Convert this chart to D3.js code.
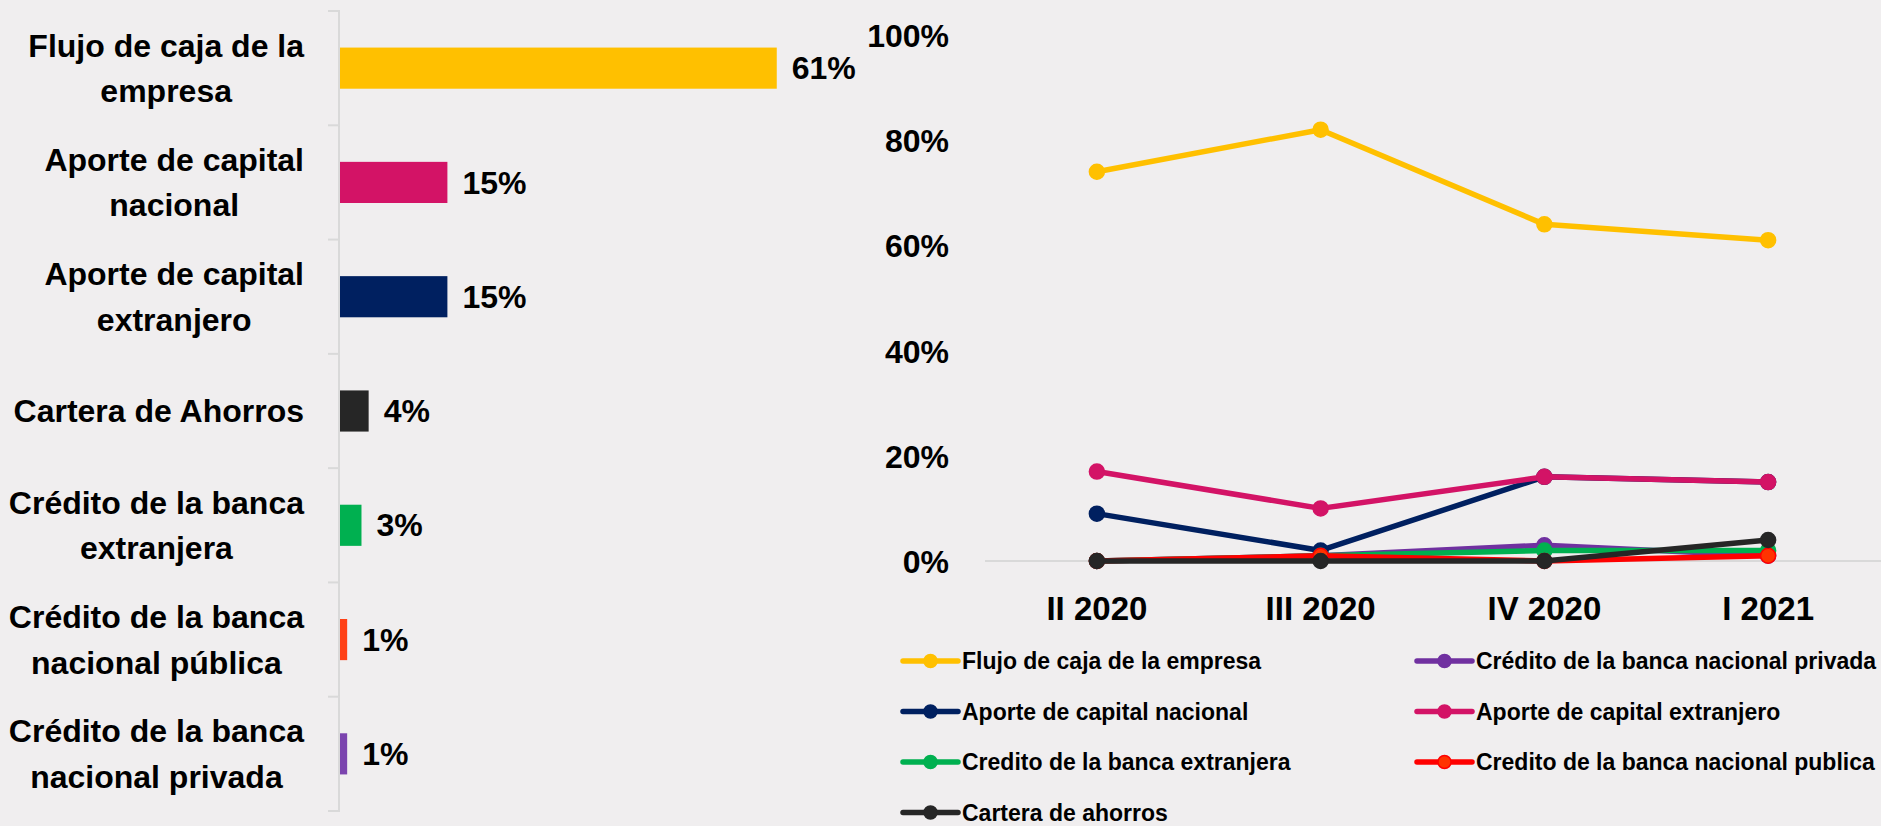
<!DOCTYPE html>
<html>
<head>
<meta charset="utf-8">
<script src="https://cdn.jsdelivr.net/npm/d3@7"></script>
<style>
  html, body { margin: 0; padding: 0; background: #F0EEEF; }
  svg { display: block; }
  text { font-family: "Liberation Sans", Arial, sans-serif; font-weight: bold; fill: #000; }
</style>
</head>
<body>
<svg id="chart" width="1881" height="826"></svg>
<script>
// ---------- Data: bar chart (I 2021) ----------
const barCategories = [
  "Flujo de caja de la\nempresa",
  "Aporte de capital\nnacional",
  "Aporte de capital\nextranjero",
  "Cartera de Ahorros",
  "Crédito de la banca\nextranjera",
  "Crédito de la banca\nnacional pública",
  "Crédito de la banca\nnacional privada"
];
const barValues = [0.61, 0.15, 0.15, 0.04, 0.03, 0.01, 0.01];
const barColors = ["#FFC000", "#D31366", "#002060", "#262626", "#00B050", "#FF4015", "#7B44AE"];

// ---------- Data: line chart ----------
const periods = ["II 2020", "III 2020", "IV 2020", "I 2021"];
const seriesNames = [
  "Flujo de caja de la empresa",
  "Crédito de la banca nacional privada",
  "Aporte de capital nacional",
  "Aporte de capital extranjero",
  "Credito de la banca extranjera",
  "Credito de la banca nacional publica",
  "Cartera de ahorros"
];
const flujoCaja        = [0.74, 0.82, 0.64, 0.61];
const creditoPrivada   = [0.00, 0.01, 0.03, 0.01];
const capitalNacional  = [0.09, 0.02, 0.16, 0.15];
const capitalExtranjero= [0.17, 0.10, 0.16, 0.15];
const creditoExtranjera= [0.00, 0.01, 0.02, 0.02];
const creditoPublica   = [0.00, 0.01, 0.00, 0.01];
const carteraAhorros   = [0.00, 0.00, 0.00, 0.04];
const seriesValues = [flujoCaja, creditoPrivada, capitalNacional, capitalExtranjero, creditoExtranjera, creditoPublica, carteraAhorros];
const lineColors   = ["#FFC000", "#7030A0", "#002060", "#D31366", "#00B050", "#FF0000", "#262626"];
const markerFills  = ["#FFC000", "#7030A0", "#002060", "#D31366", "#00B050", "#FF3300", "#262626"];
const yTicks = [0, 0.2, 0.4, 0.6, 0.8, 1.0];

const svg = d3.select("#chart");
const pct = d3.format(".0%");

// ================= LEFT: horizontal bar chart =================
const bx = d3.scaleLinear().domain([0, 1]).range([340, 1056]);
const by = d3.scaleBand().domain(barCategories).range([11, 811]).paddingInner(0.64).paddingOuter(0.32);
const left = svg.append("g");

// axis line + ticks
left.append("line").attr("x1", 339).attr("x2", 339).attr("y1", 11).attr("y2", 811)
  .attr("stroke", "#D9D9D9").attr("stroke-width", 2);
const bounds = d3.range(barCategories.length + 1).map(i => 11 + i * (811 - 11) / barCategories.length);
left.selectAll("line.tick").data(bounds).join("line").attr("class", "tick")
  .attr("x1", 328).attr("x2", 340).attr("y1", d => d).attr("y2", d => d)
  .attr("stroke", "#D9D9D9").attr("stroke-width", 2);

// bars
left.selectAll("rect.bar").data(barCategories).join("rect").attr("class", "bar")
  .attr("x", bx(0)).attr("y", d => by(d))
  .attr("width", (d, i) => bx(barValues[i]) - bx(0))
  .attr("height", by.bandwidth())
  .attr("fill", (d, i) => barColors[i]);

// value labels
left.selectAll("text.val").data(barCategories).join("text").attr("class", "val")
  .attr("x", (d, i) => bx(barValues[i]) + 15)
  .attr("y", d => by(d) + by.bandwidth() / 2)
  .attr("dy", "0.35em")
  .style("font-size", "32px")
  .text((d, i) => pct(barValues[i]));

// category labels: block right-aligned at 304, lines centered in block
const labelRight = 304, lineH = 45.5;
barCategories.forEach(cat => {
  const lines = cat.split("\n");
  const cy = by(cat) + by.bandwidth() / 2;
  const g = left.append("g");
  const texts = lines.map((ln, k) => g.append("text")
    .style("font-size", "32px")
    .attr("text-anchor", "middle")
    .attr("y", cy + (k - (lines.length - 1) / 2) * lineH)
    .attr("dy", "0.35em")
    .text(ln));
  const maxW = d3.max(texts, t => t.node().getComputedTextLength());
  texts.forEach(t => t.attr("x", labelRight - maxW / 2));
});

// ================= RIGHT: line chart =================
const lx = d3.scaleBand().domain(periods).range([985, 1880]);
const ly = d3.scaleLinear().domain([0, 1]).range([561, 35]);
const right = svg.append("g");

// zero line
right.append("line").attr("x1", 985).attr("x2", 1881).attr("y1", ly(0)).attr("y2", ly(0))
  .attr("stroke", "#D9D9D9").attr("stroke-width", 2);

// y axis labels
const yAxis = right.append("g").attr("transform", "translate(949,0)")
  .call(d3.axisLeft(ly).tickValues(yTicks).tickFormat(pct).tickSize(0).tickPadding(0));
yAxis.select(".domain").remove();
yAxis.selectAll("text").style("font-size", "32px").style("font-family", "'Liberation Sans', Arial, sans-serif")
  .style("font-weight", "bold").attr("fill", "#000").attr("dy", "0.36em");

// x axis labels
const xAxis = right.append("g").attr("transform", "translate(0,620)")
  .call(d3.axisBottom(lx).tickSize(0).tickPadding(0));
xAxis.select(".domain").remove();
xAxis.selectAll("text").style("font-size", "33px").style("font-family", "'Liberation Sans', Arial, sans-serif")
  .style("font-weight", "bold").attr("fill", "#000").attr("dy", "0").attr("y", 0);

// lines
const lineGen = d3.line().x((d, i) => lx(periods[i]) + lx.bandwidth() / 2).y(d => ly(d));
seriesValues.forEach((vals, s) => {
  right.append("path").attr("d", lineGen(vals))
    .attr("fill", "none").attr("stroke", lineColors[s]).attr("stroke-width", 5.5)
    .attr("stroke-linejoin", "round");
  right.selectAll(null).data(vals).join("circle")
    .attr("cx", (d, i) => lx(periods[i]) + lx.bandwidth() / 2)
    .attr("cy", d => ly(d))
    .attr("r", 7.5)
    .attr("fill", markerFills[s])
    .attr("stroke", lineColors[s]).attr("stroke-width", 1.5);
});

// legend (2 columns, row-major)
const legCols = [903, 1417], legRow0 = 661, legRowH = 50.5;
seriesNames.forEach((name, s) => {
  const col = s % 2, row = Math.floor(s / 2);
  const x0 = legCols[col], yy = legRow0 + row * legRowH;
  const g = right.append("g");
  g.append("line").attr("x1", x0).attr("x2", x0 + 55).attr("y1", yy).attr("y2", yy)
    .attr("stroke", lineColors[s]).attr("stroke-width", 5.5).attr("stroke-linecap", "round");
  g.append("circle").attr("cx", x0 + 27.5).attr("cy", yy).attr("r", 6.5)
    .attr("fill", markerFills[s]).attr("stroke", lineColors[s]).attr("stroke-width", 1.5);
  g.append("text").attr("x", x0 + 59).attr("y", yy).attr("dy", "0.35em")
    .style("font-size", "23px").text(name);
});
</script>
</body>
</html>
